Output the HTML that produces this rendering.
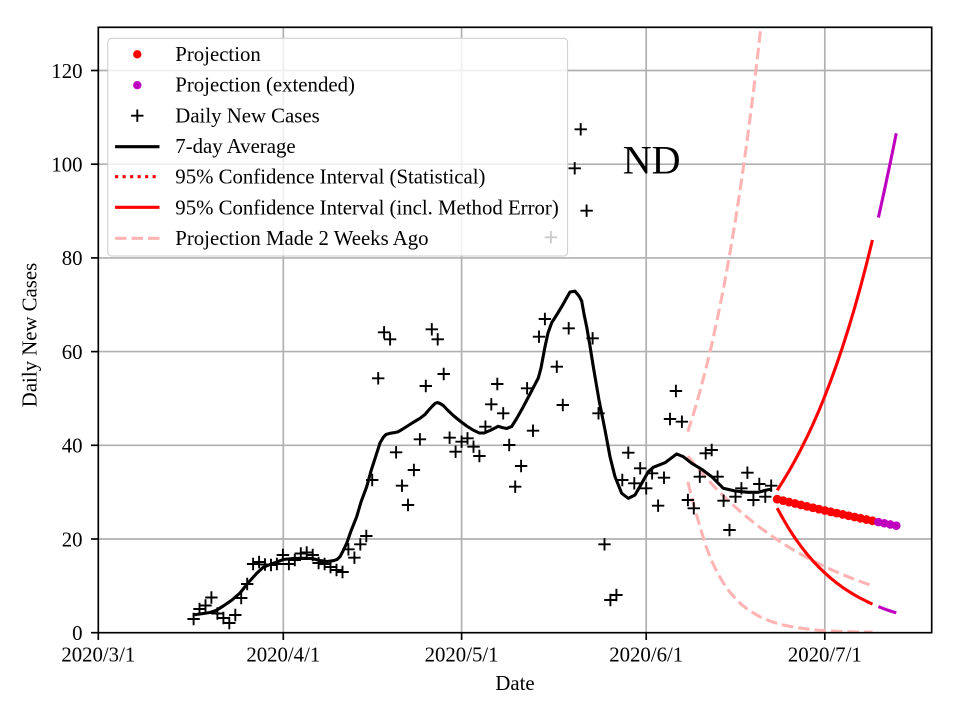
<!DOCTYPE html>
<html><head><meta charset="utf-8"><style>
html,body{margin:0;padding:0;background:#fff;}
svg{display:block;}
text{font-family:"Liberation Serif","Times New Roman",serif;fill:#000;}
</style></head><body>
<svg width="960" height="720" viewBox="0 0 960 720" xmlns="http://www.w3.org/2000/svg">
<defs>
<clipPath id="ax"><rect x="98.3" y="27.3" width="833.4" height="605.4"/></clipPath>
<path id="p" d="M-6.2 0H6.2M0 -6.2V6.2" stroke="#000" stroke-width="1.9" fill="none"/>
</defs>
<rect width="960" height="720" fill="#fff"/>
<!-- grid -->
<g stroke="#b0b0b0" stroke-width="1.67">
<line x1="98.3" y1="539" x2="931.7" y2="539"/>
<line x1="98.3" y1="445.3" x2="931.7" y2="445.3"/>
<line x1="98.3" y1="351.6" x2="931.7" y2="351.6"/>
<line x1="98.3" y1="257.9" x2="931.7" y2="257.9"/>
<line x1="98.3" y1="164.2" x2="931.7" y2="164.2"/>
<line x1="98.3" y1="70.5" x2="931.7" y2="70.5"/>
<line x1="283.3" y1="27.3" x2="283.3" y2="632.7"/>
<line x1="461.6" y1="27.3" x2="461.6" y2="632.7"/>
<line x1="646.2" y1="27.3" x2="646.2" y2="632.7"/>
<line x1="824.8" y1="27.3" x2="824.8" y2="632.7"/>
</g>
<g clip-path="url(#ax)">
<!-- pink dashed: projection 2 weeks ago -->
<g fill="none" stroke="#ffb4b4" stroke-width="3.1" stroke-dasharray="11.5 5" stroke-linejoin="round">
<polyline points="687.85,431.7 693.8,412.8 699.76,392.1 705.71,369.4 711.67,344.7 717.62,317.5 723.58,287.9 729.53,255.4 735.49,219.9 741.44,181.1 747.4,138.6 753.35,92.1 759.31,41.2 765.26,-14.5"/>
<polyline points="687.85,456.1 699.76,470.6 711.67,483.9 723.58,496.1 735.49,507.3 747.4,517.5 759.31,527 771.22,535.7 783.13,543.6 795.04,550.9 806.95,557.6 818.86,563.8 830.77,569.4 842.68,574.6 854.59,579.4 866.5,583.7 872.45,585.8"/>
<polyline points="687.85,481.8 693.8,505.5 699.76,526 705.71,545.5 711.67,561 717.62,573.2 723.58,583.3 729.53,591.7 735.49,598.6 741.44,604.4 747.4,609.2 759.31,616.5 771.22,621.5 783.13,625 795.04,627.4 806.95,629 818.86,630.2 836.73,631.3 854.59,631.9 872.45,632.2"/>
</g>
<!-- daily new cases -->
<g>
<use href="#p" x="193.6" y="619"/><use href="#p" x="199.5" y="609"/><use href="#p" x="205.5" y="605.5"/><use href="#p" x="211.4" y="597.5"/><use href="#p" x="217.4" y="613.5"/><use href="#p" x="223.4" y="618"/><use href="#p" x="229.3" y="623"/><use href="#p" x="235.3" y="615"/><use href="#p" x="241.2" y="598"/><use href="#p" x="247.2" y="584"/>
<use href="#p" x="253.1" y="564"/><use href="#p" x="259.1" y="562"/><use href="#p" x="265" y="564.5"/><use href="#p" x="271" y="565"/><use href="#p" x="276.9" y="564"/><use href="#p" x="282.9" y="555"/><use href="#p" x="288.9" y="564"/><use href="#p" x="294.8" y="560"/><use href="#p" x="300.8" y="553.5"/><use href="#p" x="306.7" y="552.5"/>
<use href="#p" x="312.7" y="555"/><use href="#p" x="318.6" y="563"/><use href="#p" x="324.6" y="564"/><use href="#p" x="330.5" y="567"/><use href="#p" x="336.5" y="570"/><use href="#p" x="342.5" y="572"/><use href="#p" x="348.4" y="549.3"/><use href="#p" x="354.4" y="557.7"/><use href="#p" x="360.3" y="544.3"/><use href="#p" x="366.3" y="536"/>
<use href="#p" x="372.2" y="480"/><use href="#p" x="378.2" y="378.3"/><use href="#p" x="384.1" y="332.3"/><use href="#p" x="390.1" y="339.3"/><use href="#p" x="396.1" y="452.3"/><use href="#p" x="402" y="485.7"/><use href="#p" x="408" y="505"/><use href="#p" x="413.9" y="470"/><use href="#p" x="419.9" y="439.3"/><use href="#p" x="425.8" y="386"/>
<use href="#p" x="431.8" y="329.3"/><use href="#p" x="437.7" y="339.3"/><use href="#p" x="443.7" y="374"/><use href="#p" x="449.6" y="437.7"/><use href="#p" x="455.6" y="451.7"/><use href="#p" x="461.6" y="441.7"/><use href="#p" x="467.5" y="438.3"/><use href="#p" x="473.5" y="446.7"/><use href="#p" x="479.4" y="456"/><use href="#p" x="485.4" y="426.7"/>
<use href="#p" x="491.3" y="404.3"/><use href="#p" x="497.3" y="384"/><use href="#p" x="503.2" y="413.3"/><use href="#p" x="509.2" y="445"/><use href="#p" x="515.2" y="486.7"/><use href="#p" x="521.1" y="466"/><use href="#p" x="527.1" y="388.3"/><use href="#p" x="533" y="430.7"/><use href="#p" x="539" y="336.7"/><use href="#p" x="544.9" y="319"/>
<use href="#p" x="550.9" y="237.3"/><use href="#p" x="556.8" y="366.7"/><use href="#p" x="562.8" y="405"/><use href="#p" x="568.7" y="328.3"/><use href="#p" x="574.7" y="168.3"/><use href="#p" x="580.7" y="129.3"/><use href="#p" x="586.6" y="210.7"/><use href="#p" x="592.6" y="338.3"/><use href="#p" x="598.5" y="413.3"/><use href="#p" x="604.5" y="544.3"/>
<use href="#p" x="610.4" y="600"/><use href="#p" x="616.4" y="595"/><use href="#p" x="622.3" y="480"/><use href="#p" x="628.3" y="452.7"/><use href="#p" x="634.3" y="483.3"/><use href="#p" x="640.2" y="468.3"/><use href="#p" x="646.2" y="488.3"/><use href="#p" x="652.1" y="473.3"/><use href="#p" x="658.1" y="505.7"/><use href="#p" x="664" y="477.7"/>
<use href="#p" x="670" y="419"/><use href="#p" x="675.9" y="391"/><use href="#p" x="681.9" y="421.7"/><use href="#p" x="687.9" y="500"/><use href="#p" x="693.8" y="508.3"/><use href="#p" x="699.8" y="476.7"/><use href="#p" x="705.7" y="453.3"/><use href="#p" x="711.7" y="450"/><use href="#p" x="717.6" y="476.7"/><use href="#p" x="723.6" y="500.7"/>
<use href="#p" x="729.5" y="530"/><use href="#p" x="735.5" y="496.7"/><use href="#p" x="741.4" y="488.3"/><use href="#p" x="747.4" y="472.7"/><use href="#p" x="753.4" y="500"/><use href="#p" x="759.3" y="484"/><use href="#p" x="765.3" y="496.7"/><use href="#p" x="771.2" y="485.7"/>
</g>
<!-- 7-day average -->
<polyline fill="none" stroke="#000" stroke-width="3.1" stroke-linejoin="round" stroke-linecap="butt" points="192.7,615 200,614 210,612.5 216,610.5 223.3,606 232,600 240,593 248,583 256.7,573.3 263,567.5 270,564.5 277,562 283.3,559.5 293,558.5 303.3,558.3 312,558.5 320,560.5 327,561.5 333.3,560.7 337,559.5 340,556.7 343,551 346.7,543.3 351,531 356.7,516.7 361,502 366.7,486.7 371,471 376.7,453.3 380,443 383.3,437.3 386,434.5 390,433.3 395,432.5 398.3,431.7 402,429.5 406.7,426.5 413,422.5 420,418.3 425,414.5 428.3,410.5 432,406.5 435,403.5 437.3,402.5 440,403.5 443.3,405.5 448,410.5 453.3,415.5 460,421 466.7,426 473,430 479.3,433 484,433 490,430.5 494,428.5 498.3,426.3 502,427.5 506.7,428.5 511.7,426.5 517,418 523.3,406.7 530,394 538.3,378 541,368 545,346.7 548,333 551.7,322.7 556,316 561.7,306.7 566,299 570,292 575,291.2 579,296 581.7,301 584,314 586.7,327 590,346 593.3,366.7 599,400 605,430 610,456.7 615,476.7 621.7,493.3 628.3,498.3 635,495 641.7,483.3 648.3,471.7 653.3,467.3 665,462.7 676.7,454 683.3,456.7 691.7,463.3 701.7,469.3 711.7,476.7 723.3,488.3 735,491 748.3,492.3 758.3,492.3 766.7,490 772,489"/>
<!-- confidence intervals -->
<g fill="none" stroke-width="3.1" stroke-linejoin="round">
<polyline stroke="#ff0000" points="777.17,490.3 783.13,480.9 789.08,471 795.04,460.4 800.99,449.1 806.95,437.1 812.9,424.4 818.86,410.8 824.81,396.2 830.77,380.7 836.72,364.2 842.68,346.6 848.63,327.9 854.59,307.9 860.54,286.7 866.5,264.1 872.45,240"/>
<polyline stroke="#bf00bf" points="878.41,217.5 884.36,190.5 890.32,162.5 896.27,133.3"/>
<polyline stroke="#ff0000" points="777.17,508.1 783.13,518.9 789.08,529 795.04,538.1 800.99,546.4 806.95,554 812.9,560.9 818.86,567.2 824.81,572.9 830.77,578.2 836.72,583 842.68,587.4 848.63,591.3 854.59,595 860.54,598.3 866.5,601.3 872.45,604.1"/>
<polyline stroke="#bf00bf" points="878.41,606.6 884.36,608.9 890.32,611 896.27,612.9"/>
</g>
<!-- projection dots -->
<g fill="#ff0000">
<circle cx="777.17" cy="499.18" r="4.4"/><circle cx="783.13" cy="500.63" r="4.4"/><circle cx="789.08" cy="502.08" r="4.4"/><circle cx="795.04" cy="503.53" r="4.4"/><circle cx="800.99" cy="504.94" r="4.4"/><circle cx="806.95" cy="506.34" r="4.4"/><circle cx="812.9" cy="507.75" r="4.4"/><circle cx="818.86" cy="509.11" r="4.4"/><circle cx="824.81" cy="510.47" r="4.4"/><circle cx="830.77" cy="511.83" r="4.4"/><circle cx="836.72" cy="513.14" r="4.4"/><circle cx="842.68" cy="514.45" r="4.4"/><circle cx="848.63" cy="515.76" r="4.4"/><circle cx="854.59" cy="517.03" r="4.4"/><circle cx="860.54" cy="518.29" r="4.4"/><circle cx="866.5" cy="519.56" r="4.4"/><circle cx="872.45" cy="520.82" r="4.4"/>
</g>
<g fill="#bf00bf">
<circle cx="878.41" cy="522.04" r="4.3"/><circle cx="884.36" cy="523.26" r="4.3"/><circle cx="890.32" cy="524.48" r="4.3"/><circle cx="896.27" cy="525.65" r="4.3"/>
</g>
</g>
<!-- ND label -->
<text x="622.8" y="173.3" font-size="40">ND</text>
<!-- spines -->
<rect x="98.3" y="27.3" width="833.4" height="605.4" fill="none" stroke="#000" stroke-width="1.67"/>
<!-- ticks -->
<g stroke="#000" stroke-width="1.67">
<line x1="91" y1="632.7" x2="98.3" y2="632.7"/>
<line x1="91" y1="539" x2="98.3" y2="539"/>
<line x1="91" y1="445.3" x2="98.3" y2="445.3"/>
<line x1="91" y1="351.6" x2="98.3" y2="351.6"/>
<line x1="91" y1="257.9" x2="98.3" y2="257.9"/>
<line x1="91" y1="164.2" x2="98.3" y2="164.2"/>
<line x1="91" y1="70.5" x2="98.3" y2="70.5"/>
<line x1="98.3" y1="632.7" x2="98.3" y2="640"/>
<line x1="283.3" y1="632.7" x2="283.3" y2="640"/>
<line x1="461.6" y1="632.7" x2="461.6" y2="640"/>
<line x1="646.2" y1="632.7" x2="646.2" y2="640"/>
<line x1="824.8" y1="632.7" x2="824.8" y2="640"/>
</g>
<g font-size="20.8" text-anchor="end">
<text x="82.5" y="640">0</text>
<text x="82.5" y="546.3">20</text>
<text x="82.5" y="452.6">40</text>
<text x="82.5" y="358.9">60</text>
<text x="82.5" y="265.2">80</text>
<text x="82.5" y="171.5">100</text>
<text x="82.5" y="77.8">120</text>
</g>
<g font-size="20.8" text-anchor="middle">
<text x="98.3" y="661.5">2020/3/1</text>
<text x="283.3" y="661.5">2020/4/1</text>
<text x="461.6" y="661.5">2020/5/1</text>
<text x="646.2" y="661.5">2020/6/1</text>
<text x="824.8" y="661.5">2020/7/1</text>
<text x="515" y="690">Date</text>
<text transform="translate(36.5,335) rotate(-90)">Daily New Cases</text>
</g>
<!-- legend -->
<rect x="107.8" y="38.3" width="459.8" height="217.7" rx="4" ry="4" fill="#fff" fill-opacity="0.8" stroke="#cccccc" stroke-width="1"/>
<circle cx="137.3" cy="54.3" r="4.2" fill="#ff0000"/>
<circle cx="137.3" cy="85.2" r="4.2" fill="#bf00bf"/>
<use href="#p" x="137.3" y="115.7"/>
<line x1="115.1" y1="146.7" x2="159.5" y2="146.7" stroke="#000" stroke-width="3.1"/>
<line x1="115.1" y1="176.7" x2="159.5" y2="176.7" stroke="#ff0000" stroke-width="3.1" stroke-dasharray="3.1 4.4"/>
<line x1="115.1" y1="207.3" x2="159.5" y2="207.3" stroke="#ff0000" stroke-width="3.1"/>
<line x1="115.1" y1="238.3" x2="159.5" y2="238.3" stroke="#ffb4b4" stroke-width="3.1" stroke-dasharray="11.5 5"/>
<g font-size="20.8">
<text x="175.3" y="61">Projection</text>
<text x="175.3" y="91.7">Projection (extended)</text>
<text x="175.3" y="122.3">Daily New Cases</text>
<text x="175.3" y="153">7-day Average</text>
<text x="175.3" y="183.7">95% Confidence Interval (Statistical)</text>
<text x="175.3" y="214.3">95% Confidence Interval (incl. Method Error)</text>
<text x="175.3" y="245">Projection Made 2 Weeks Ago</text>
</g>
</svg>
</body></html>
